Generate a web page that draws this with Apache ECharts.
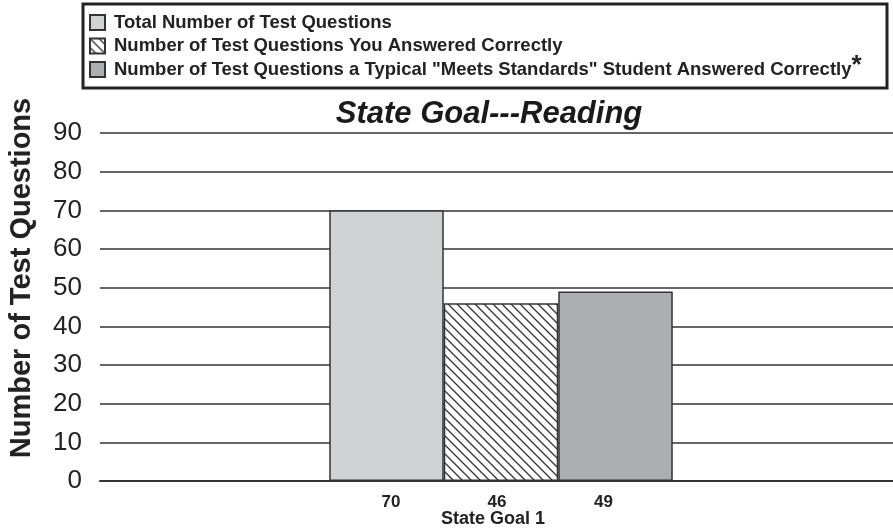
<!DOCTYPE html>
<html>
<head>
<meta charset="utf-8">
<script src="https://cdn.jsdelivr.net/npm/echarts@6/dist/echarts.min.js"></script>
<style>html,body{margin:0;padding:0;background:#fff;}#c{width:893px;height:529px;}</style>
</head>
<body>
<div id="c"></div>
<script>
var categories = ['State Goal 1'];
var seriesNames = [
  'Total Number of Test Questions',
  'Number of Test Questions You Answered Correctly',
  'Number of Test Questions a Typical "Meets Standards" Student Answered Correctly'
];
var footnoteMark = '*';
var totalQuestions = [70];
var youCorrect = [46];
var typicalCorrect = [49];
var yTicks = { min: 0, max: 90, interval: 10 };

function hatch() {
  var s = 9;
  var c = document.createElement('canvas');
  c.width = s; c.height = s;
  var g = c.getContext('2d');
  g.fillStyle = '#ffffff';
  g.fillRect(0, 0, s, s);
  g.strokeStyle = '#333333';
  g.lineWidth = 1.3;
  g.beginPath();
  g.moveTo(-1, -1); g.lineTo(s + 1, s + 1);
  g.moveTo(-1, s - 1); g.lineTo(1, s + 1);
  g.moveTo(s - 1, -1); g.lineTo(s + 1, 1);
  g.stroke();
  return c;
}

var font = 'Liberation Sans, Arial, Helvetica, sans-serif';
var legendFontSize = 18.5;
var legendTextX = 113;
function measure(t, f) {
  var c = document.createElement('canvas').getContext('2d');
  c.font = f;
  return c.measureText(t).width;
}
var row3Width = measure(seriesNames[2], 'bold ' + legendFontSize + 'px ' + font);

var chart = echarts.init(document.getElementById('c'));
function labelStyle(dx) {
  return { show: true, position: 'bottom', distance: 13, offset: [dx, 0], fontFamily: font, fontWeight: 'bold', fontSize: 17, color: '#222', formatter: '{c}' };
}
var borderStyle = { borderColor: '#333', borderWidth: 1.5 };

chart.setOption({
  animation: false,
  backgroundColor: '#fff',
  title: {
    text: 'State Goal---Reading',
    left: 484, top: 94, textAlign: 'center',
    textStyle: { fontFamily: font, fontSize: 31, fontWeight: 'bold', fontStyle: 'italic', color: '#1a1a1a' }
  },
  graphic: [
    { type: 'rect', shape: { x: 83, y: 4, width: 804, height: 84 }, style: { fill: '#fff', stroke: '#222', lineWidth: 3 }, z: -1 },
    { type: 'text', x: legendTextX + row3Width + 1, y: 53,
      style: { text: footnoteMark, font: 'bold 26px ' + font, fill: '#222', textAlign: 'left', textVerticalAlign: 'top' } },
    { type: 'text', x: 22, y: 278, rotation: Math.PI / 2,
      style: { text: 'Number of Test Questions', font: 'bold 29px ' + font, fill: '#222', textAlign: 'center', textVerticalAlign: 'middle' } }
  ],
  legend: {
    orient: 'vertical', left: 84, top: 8, itemWidth: 15, itemHeight: 15, itemGap: 4.5,
    selectedMode: false, icon: 'rect',
    textStyle: { fontFamily: font, fontWeight: 'bold', fontSize: legendFontSize, lineHeight: 18, color: '#222', padding: [0, 0, 0, 4] },
    data: seriesNames
  },
  grid: [
    { left: 100, right: 0, top: 133, bottom: 48, containLabel: false },
    { left: 109, right: 0, top: 133, bottom: 48, containLabel: false }
  ],
  xAxis: [
    { type: 'category', data: categories, gridIndex: 0,
      axisLine: { show: true, lineStyle: { color: '#333', width: 2 } },
      axisTick: { show: false },
      axisLabel: { margin: 29, padding: [0, 7, 0, 0], fontFamily: font, fontWeight: 'bold', fontSize: 18, color: '#222' } },
    { type: 'category', data: categories, gridIndex: 1,
      axisLine: { show: false }, axisTick: { show: false }, axisLabel: { show: false } }
  ],
  yAxis: [
    { type: 'value', gridIndex: 0, min: yTicks.min, max: yTicks.max, interval: yTicks.interval,
      axisLine: { show: false }, axisTick: { show: false },
      axisLabel: { margin: 18, fontFamily: font, fontSize: 26, color: '#222' },
      splitLine: { lineStyle: { color: '#333', width: 1.5 } } },
    { type: 'value', gridIndex: 1, min: yTicks.min, max: yTicks.max, interval: yTicks.interval,
      axisLine: { show: false }, axisTick: { show: false }, axisLabel: { show: false }, splitLine: { show: false } }
  ],
  series: [
    { name: seriesNames[0], type: 'bar', xAxisIndex: 1, yAxisIndex: 1, data: totalQuestions, barWidth: 114.5, barGap: '0%',
      itemStyle: Object.assign({ color: '#d1d2d4' }, borderStyle), label: labelStyle(4.5) },
    { name: seriesNames[1], type: 'bar', xAxisIndex: 1, yAxisIndex: 1, data: youCorrect, barWidth: 114.5, barGap: '0%',
      itemStyle: Object.assign({ color: { image: hatch(), repeat: 'repeat' } }, borderStyle), label: labelStyle(-4) },
    { name: seriesNames[2], type: 'bar', xAxisIndex: 1, yAxisIndex: 1, data: typicalCorrect, barWidth: 114.5, barGap: '0%',
      itemStyle: Object.assign({ color: '#adaeb1' }, borderStyle), label: labelStyle(-12) }
  ]
});
</script>
</body>
</html>
